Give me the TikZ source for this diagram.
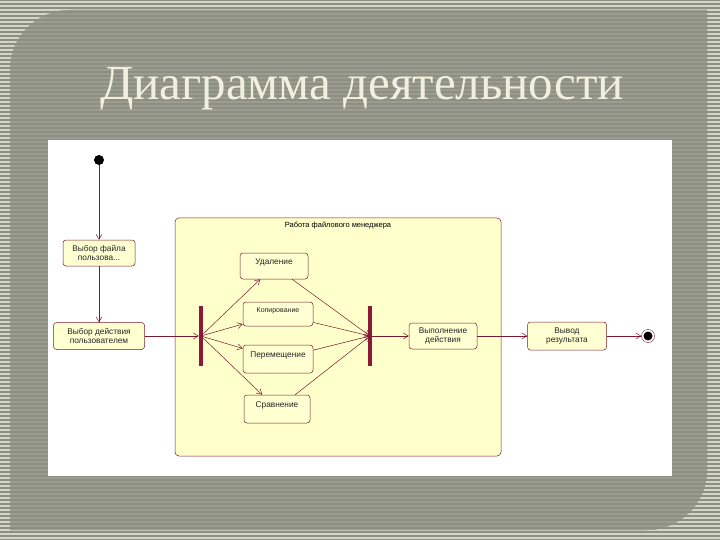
\documentclass[tikz,border=0pt]{standalone}
\usepackage{fontspec}
\setsansfont{Liberation Sans}
\newfontfamily\titlefont{Liberation Serif}
\usetikzlibrary{arrows.meta}
\definecolor{slidegray}{HTML}{8D8F82}
\definecolor{stripelight}{HTML}{D3D4CA}
\definecolor{panelstripe}{HTML}{9B9D90}
\definecolor{umlred}{HTML}{7A1A30}
\definecolor{barred}{HTML}{8B1A3A}
\definecolor{actfill}{HTML}{FFFFD2}
\definecolor{grpfill}{HTML}{FFFFCC}
\definecolor{titlecream}{HTML}{F1EFDD}

\begin{document}
\begin{tikzpicture}[
  x=1pt, y=-1pt,
  font=\sffamily\fontsize{8.3}{9.3}\selectfont,
  >={Straight Barb[length=5pt,width=6pt]},
  act/.style={draw=umlred, line width=0.5pt, rounded corners=3pt,
              fill=actfill, align=center, inner sep=1pt, text=black!85},
  group/.style={draw=umlred, line width=0.5pt, rounded corners=4pt,
                fill=grpfill, minimum width=326pt, minimum height=238pt},
  bar/.style={fill=barred, minimum width=4pt, minimum height=60pt,
              inner sep=0pt},
  initst/.style={circle, fill=black, minimum size=10pt, inner sep=0pt},
  finalst/.style={circle, draw=umlred, fill=white, minimum size=13pt,
                  inner sep=0pt,
                  path picture={\fill[black] (path picture bounding box.center)
                                circle (4.5pt);}},
  flow/.style={->, line width=0.5pt, umlred},
]
\useasboundingbox (0,0) rectangle (720,540);

% ── slide background: striped frame and rounded panel ──────────────────────
\fill[slidegray] (0,0) rectangle (720,540);
\foreach \y in {2,6,...,538}
  \draw[stripelight, line width=1.4pt] (0,\y) -- (720,\y);
\begin{scope}
  \clip (10,530) -- (10,70) arc[start angle=180, end angle=90, radius=60pt]
        -- (707,10) -- (707,470)
        arc[start angle=0, end angle=-90, radius=60pt] -- cycle;
  \fill[slidegray] (0,0) rectangle (720,540);
  \foreach \y in {2,6,...,538}
    \draw[panelstripe, line width=1.4pt] (0,\y) -- (720,\y);
\end{scope}
\fill[white] (48,140) rectangle (672,476);

\node[font=\titlefont\fontsize{49}{52}\selectfont, text=titlecream]
  (title) at (362,89) {Диаграмма деятельности};

% ── activity diagram ───────────────────────────────────────────────────────
\node[group, label={[anchor=north, yshift=-3pt, inner sep=1pt,
      font=\sffamily\fontsize{7.5}{8.5}\selectfont]north:Работа файлового менеджера}]
  (mgr) at (338,337) {};

\node[initst] (start) at (99,160) {};
\node[act, minimum width=72pt, minimum height=26pt] (pick) at (99,253)
  {Выбор файла\\пользова...};
\node[act, minimum width=91pt, minimum height=27pt] (choose) at (99,336)
  {Выбор действия\\пользователем};

\node[bar] (fork) at (201,336) {};
\node[bar] (join) at (370,336) {};

% parallel operations (text sits near the top of each box)
\node[act, minimum width=68pt, minimum height=26pt] (del)  at (274,266)
  {Удаление\\\mbox{}};
\node[act, minimum width=70pt, minimum height=24pt,
      font=\sffamily\fontsize{7}{8}\selectfont] (copy) at (278,314)
  {Копирование\\\mbox{}};
\node[act, minimum width=70pt, minimum height=28pt] (move) at (278,359)
  {Перемещение\\\mbox{}};
\node[act, minimum width=66pt, minimum height=28pt] (cmp)  at (277,409)
  {Сравнение\\\mbox{}};

\node[act, minimum width=68pt, minimum height=26pt] (exec) at (443,336)
  {Выполнение\\действия};
\node[act, minimum width=79pt, minimum height=28pt] (out)  at (567,336)
  {Вывод\\результата};
\node[finalst] (fin) at (648,336) {};

\draw[flow] (start) -- (pick);
\draw[flow] (pick) -- (choose);
\draw[flow] (choose) -- (fork);
\foreach \n in {del,copy,move,cmp} {
  \draw[flow] (fork.center) -- (\n);
  \draw[flow] (\n) -- (join.center);
}
\draw[flow] (join) -- (exec);
\draw[flow] (exec) -- (out);
\draw[flow] (out) -- (fin);
\end{tikzpicture}
\end{document}
